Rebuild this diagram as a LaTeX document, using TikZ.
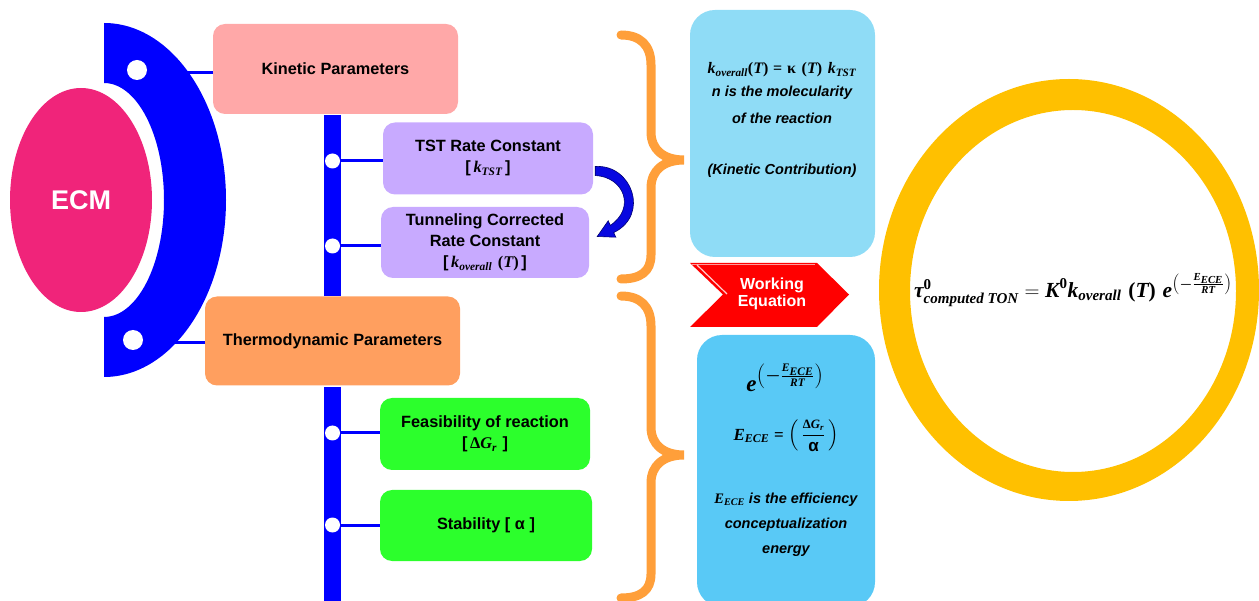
\documentclass[tikz,border=0pt]{standalone}
\usepackage{amsmath}
\usepackage{graphicx}
\usepackage{fontspec}
\setmainfont{Liberation Sans}
\newfontfamily\mserif{Liberation Serif}
\usetikzlibrary{arrows.meta,shapes.geometric}
\definecolor{ecmpink}{HTML}{F0247A}
\definecolor{kinc}{HTML}{FFA8A8}
\definecolor{thermc}{HTML}{FF9F5F}
\definecolor{lavc}{HTML}{C8AAFF}
\definecolor{greenc}{HTML}{2CFF2C}
\definecolor{skyA}{HTML}{8FDCF6}
\definecolor{skyB}{HTML}{59C9F6}
\definecolor{bracec}{HTML}{FF9F3A}
\definecolor{goldc}{HTML}{FFC000}
\definecolor{arrowc}{HTML}{0808E0}
\definecolor{arrowe}{HTML}{000070}
\newcommand{\mi}[1]{\text{\mserif\bfseries\itshape #1}}
\newcommand{\mup}[1]{\text{\mserif\bfseries\upshape #1}}
\newcommand{\eqKone}{$\mi{k}_{\mi{overall}}\mup{(}\mi{T}\mup{)}\mathrel{\mup{=}}\mup{κ}\,\,\mup{(}\mi{T}\mup{)}\,\,\mi{k}_{\mi{TST}}$}
\newcommand{\eqTone}{$\mi{e}^{\left(\boldsymbol{-}\frac{\mi{E}_{\mi{ECE}}}{\mi{RT}}\right)}$}
\newcommand{\eqTtwo}{$\displaystyle\mi{E}_{\mi{ECE}}\mathrel{\mup{=}}\left(\,\frac{\scalebox{0.75}{$\mup{Δ}\mi{G}_{\mi{r}}$}}{\text{\bfseries\upshape α}}\,\right)$}
\newcommand{\eqRing}{$\mi{τ}^{\mup{0}}_{\mi{computed TON}} = \mi{K}^{\mup{0}}\mi{k}_{\mi{overall}}\,\,\mup{(}\mi{T}\mup{)}\,\,\mi{e}^{\left(\boldsymbol{-}\frac{\mi{E}_{\mi{ECE}}}{\mi{RT}}\right)}$}
\tikzset{
  box/.style={rounded corners=12pt, inner sep=0pt, align=center, font=\bfseries\fontsize{16.3}{21}\selectfont},
  branch/.style={draw=blue, line width=3pt},
  bar/.style={draw=blue, line width=17pt},
  dotw/.style={fill=white},
  bracestyle/.style={draw=bracec, line width=9pt, line cap=round},
  itxt/.style={font=\bfseries\itshape\fontsize{14.5}{18}\selectfont, inner sep=0pt},
}
\begin{document}
\begin{tikzpicture}[x=1pt,y=-1pt]
\useasboundingbox (0,0) rectangle (1259,601);

% connectors from the half ring
\coordinate (r1) at (185,73);
\coordinate (r2) at (170,343);
\node[box, fill=kinc, minimum width=245pt, minimum height=90pt] (kin) at (335.5,69) {Kinetic Parameters};
\node[box, fill=thermc, minimum width=255pt, minimum height=89pt] (therm) at (332.5,341) {Thermodynamic Parameters};
\draw[branch] (r1) -- (kin.west |- r1);
\draw[branch] (r2) -- (therm.west |- r2);

% half ring
\begin{scope}
\clip (104,0) rectangle (400,601);
\fill[blue, even odd rule] (104,200) ellipse [x radius=122pt, y radius=177pt]
                           (104,200) ellipse [x radius=60pt, y radius=117pt];
\end{scope}
\fill[dotw] (137,70) circle [radius=10pt];
\fill[dotw] (133,340) circle [radius=10pt];

% ECM
\node[ellipse, fill=ecmpink, minimum width=142pt, minimum height=224pt, inner sep=0pt,
      text=white, font=\bfseries\fontsize{27}{30}\selectfont] (ecm) at (81,200) {ECM};

% sub boxes
\node[box, fill=lavc, minimum width=210pt, minimum height=72pt] (tst) at (488,158.5)
  {TST Rate Constant\\ {[}\,$\mi{k}_{\mi{TST}}$\,{]}};
\node[box, fill=lavc, minimum width=208pt, minimum height=71pt] (tun) at (485,242.5)
  {Tunneling Corrected\\ Rate Constant\\ {[}\,$\mi{k}_{\mi{overall}}\,\,\mup{(}\mi{T}\mup{)}$\,{]}};
\node[box, fill=greenc, minimum width=210pt, minimum height=72pt] (feas) at (485,434)
  {Feasibility of reaction\\ {[}\,$\mup{Δ}\mi{G}_{\mi{r}}$\,\,{]}};
\node[box, fill=greenc, minimum width=212pt, minimum height=71pt] (stab) at (486,525.5)
  {Stability {[} α {]}};

% vertical bars
\coordinate (b1t) at (332.5,115);
\coordinate (b1b) at (332.5,296);
\coordinate (b2t) at (332.5,387);
\coordinate (b2b) at (332.5,601);
\draw[bar] (b1t) -- (b1b);
\draw[bar] (b2t) -- (b2b);
\coordinate (d1) at (332.5,161);
\coordinate (d2) at (332.5,246);
\coordinate (d3) at (332.5,433);
\coordinate (d4) at (332.5,525);
\draw[branch] (d1) -- (tst.west |- d1);
\draw[branch] (d2) -- (tun.west |- d2);
\draw[branch] (d3) -- (feas.west |- d3);
\draw[branch] (d4) -- (stab.west |- d4);
\foreach \d in {d1,d2,d3,d4} \fill[dotw] (\d) circle [radius=7.5pt];

% curved block arrow from TST to Tunneling
\coordinate (as) at ([xshift=2pt,yshift=-3pt]tst.east);
\coordinate (at) at ([xshift=8pt,yshift=6pt]tun.east);
\fill[arrowc, draw=arrowe, line width=0.6pt]
  ([yshift=-5pt]as) .. controls (632,164) and (650,215) .. (613.7,232.6)
  -- (615.8,237.2) -- (at) -- (608.2,220.8) -- (610.3,225.4)
  .. controls (636,208) and (624,177) .. ([yshift=-14pt]as) -- cycle;

% braces
\draw[bracestyle] (621,35) .. controls (640,35) and (651,45) .. (651,65) -- (651,132)
  .. controls (651,150) and (664,160) .. (684,160)
  .. controls (664,160) and (651,170) .. (651,188) -- (651,255)
  .. controls (651,272) and (640,279) .. (621,279);
\draw[bracestyle] (621,296) .. controls (640,296) and (651,306) .. (651,326) -- (651,427)
  .. controls (651,445) and (664,455) .. (684,455)
  .. controls (664,455) and (651,465) .. (651,483) -- (651,574)
  .. controls (651,591) and (640,598) .. (621,598);

% right boxes
\node[fill=skyA, rounded corners=25pt, minimum width=185pt, minimum height=247pt, inner sep=0pt] (kbox) at (782.5,133.5) {};
\node[inner sep=0pt, font=\fontsize{16}{19}\selectfont] (k1) at (782,70) {\eqKone};
\node[itxt] (k2) at (782,93) {n is the molecularity};
\node[itxt] (k3) at (782,118) {of the reaction};
\node[itxt] (k4) at (782,171) {(Kinetic Contribution)};

\node[fill=skyB, rounded corners=25pt, minimum width=178pt, minimum height=272pt, inner sep=0pt] (tbox) at (786,471) {};
\node[inner sep=0pt, font=\fontsize{23}{26}\selectfont] (t1) at (785,378) {\eqTone};
\node[inner sep=0pt, font=\fontsize{17}{20}\selectfont] (t2) at (786,436) {\eqTtwo};
\node[itxt] (t3) at (786,500) {$\mi{E}_{\mi{ECE}}$ is the efficiency};
\node[itxt] (t4) at (786,525) {conceptualization};
\node[itxt] (t5) at (786,551) {energy};

% working equation chevron
\fill[red] (690,263) -- (817,263) -- (849,294.5) -- (817,327) -- (690,327) -- (723,294.5) -- cycle;
\draw[white, line width=1.2pt, opacity=0.8] (697,265) -- (727,294);
\draw[white, line width=0.8pt, opacity=0.6] (692,264) -- (815,264);
\node[text=white, align=center, inner sep=0pt, font=\bfseries\fontsize{16}{17}\selectfont] (we) at (772,294) {Working\\Equation};

% ring
\fill[goldc, even odd rule] (1069,290) ellipse [x radius=190pt, y radius=211pt]
                            (1073,291) ellipse [x radius=163pt, y radius=181pt];
\node[inner sep=0pt, font=\fontsize{21.5}{24}\selectfont] (eq) at (1073,290) {\eqRing};
\end{tikzpicture}
\end{document}
